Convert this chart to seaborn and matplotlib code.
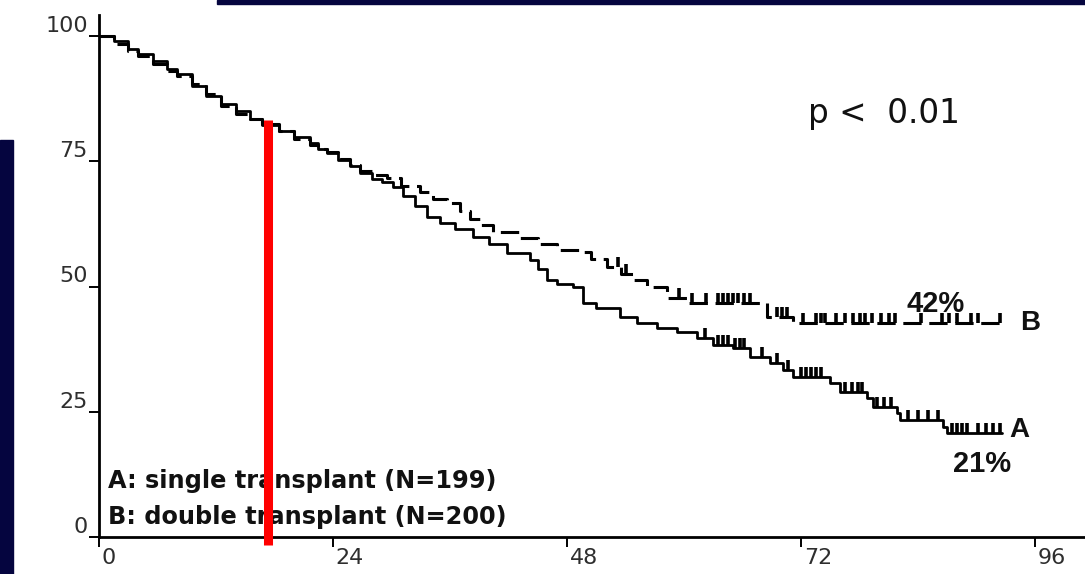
import numpy as np
import pandas as pd
import matplotlib
matplotlib.use("Agg")
import matplotlib.pyplot as plt
import matplotlib.transforms as mtrans
from matplotlib.path import Path
from matplotlib.patches import Rectangle
import seaborn as sns

# ---------------- data ----------------
months_A = [0, 1.5, 3, 4, 5.5, 7, 8, 9.5, 11, 12.5, 14, 15.5, 16.7, 18.5, 20, 21.6, 22.5, 23.4,
            24.5, 25.7, 26.8, 28, 29, 30.2, 31.2, 32.4, 33.6, 35, 36.5, 38.4, 40, 41.8, 44.2, 45,
            45.9, 47, 48.6, 49.6, 51, 53.4, 55.2, 57.2, 59.3, 61.3, 63, 65, 66.8, 68.8, 70.2,
            71.2, 75, 76, 78.8, 79.4, 81.8, 82.2, 86.6, 87, 92.6]
surv_A = [100, 99, 97.5, 96.5, 95, 93.5, 92.5, 90, 88, 86.5, 85, 83.5, 82.2, 81, 79.8, 78.6, 77.5,
          76.6, 75.2, 74, 72.7, 71.5, 70.8, 69.9, 68, 66, 63.9, 62.7, 61.5, 59.9, 58.5, 56.7, 55.3,
          53.5, 51.3, 50.5, 49.9, 46.7, 45.8, 43.9, 42.7, 41.7, 40.9, 39.7, 38.3, 37.7, 35.9, 34.7,
          33.3, 31.9, 30.7, 28.9, 27.7, 25.9, 24.7, 23.4, 22.0, 20.8, 20.8]

months_B = [0, 1.5, 3, 4, 5.5, 7, 8, 9.5, 11, 12.5, 14, 15.5, 16.7, 18.5, 20, 21.6, 22.5, 23.4,
            24.5, 25.7, 26.8, 28, 29.5, 31, 32.9, 34.3, 35.7, 37, 38, 39.1, 40.4, 43.2, 45, 47,
            49.3, 50.5, 52.1, 53.5, 54.8, 56.2, 58.3, 60.3, 68.5, 71.2, 92.6]
surv_B = [100, 98.5, 97, 96, 94.5, 93, 92, 90.5, 88.5, 86, 84.5, 83.5, 82.5, 81, 79.5, 78.2, 77.5,
          76.8, 75.5, 74.2, 73, 72.2, 71.7, 70, 68.9, 67.5, 66.7, 65, 63.5, 62.3, 60.9, 59.7, 58.5,
          57.3, 56.9, 55.5, 53.9, 52.5, 51.3, 49.9, 47.7, 46.7, 43.9, 42.7, 42.7]

censor_A = [62.2, 63.5, 64, 64.5, 65.2, 65.7, 66.2, 68, 69.5, 70.7, 72, 72.5, 73, 73.5, 74, 76.5,
            77.2, 77.8, 78.3, 79.8, 80.5, 81.2, 83, 84, 85, 86, 87.5, 88, 88.5, 89, 90.2, 91,
            91.7, 92.4]
censor_B = [53.2, 54, 59.5, 60.8, 62.3, 63.5, 64, 64.5, 65, 65.5, 66.2, 66.8, 69.5, 70, 70.6,
            72.2, 73.5, 74, 74.5, 75.6, 76.5, 77.3, 78, 78.6, 79.3, 80.2, 81, 81.6, 84.3, 86.5,
            87.2, 88, 89.4, 90.2, 92.4]

x_ticks = [0, 24, 48, 72, 96]
y_ticks = [0, 25, 50, 75, 100]
marker_month = 17.3          # red reference line
legend_lines = ["A: single transplant (N=199)", "B: double transplant (N=200)"]
p_text = "p <  0.01"
final_A, final_B = "21%", "42%"


def surv_at(times, surv, t):
    idx = np.searchsorted(times, t, side="right") - 1
    return np.asarray(surv)[idx]


df_A = pd.DataFrame({"month": months_A, "surv": surv_A})
df_B = pd.DataFrame({"month": months_B, "surv": surv_B})
cen_A = pd.DataFrame({"month": censor_A, "surv": surv_at(months_A, surv_A, censor_A)})
cen_B = pd.DataFrame({"month": censor_B, "surv": surv_at(months_B, surv_B, censor_B)})

# ---------------- figure ----------------
sns.set_theme(style="white")
plt.rcParams["font.family"] = ["Liberation Sans", "DejaVu Sans"]

fig = plt.figure(figsize=(10.85, 5.74), dpi=100)
fig.patch.set_facecolor("white")

# navy slide frame pieces
navy = "#05053f"
fig.patches.append(Rectangle((0, 0), 13 / 1085, (574 - 140) / 574, transform=fig.transFigure,
                             color=navy, zorder=0))
fig.patches.append(Rectangle((217 / 1085, 1 - 4 / 574), 1, 4 / 574, transform=fig.transFigure,
                             color=navy, zorder=0))

ax = fig.add_axes([99 / 1085, 37 / 574, (1085 - 99) / 1085, (537 - 15) / 574])
ax.set_facecolor("none")

sns.lineplot(data=df_A, x="month", y="surv", ax=ax, drawstyle="steps-post", estimator=None,
             color="black", linewidth=2.0, sort=False)
sns.lineplot(data=df_B, x="month", y="surv", ax=ax, drawstyle="steps-post", estimator=None,
             color="black", linewidth=2.2, sort=False, linestyle=(0, (6, 2.5)))

tick_up = Path([(0, 0), (0, 1)], [Path.MOVETO, Path.LINETO])
for cen in (cen_A, cen_B):
    ax.plot(cen["month"], cen["surv"], linestyle="none", marker=tick_up, markersize=14,
            markeredgewidth=2.6, color="black")

ax.set_xlim(0, (1085 - 99) / 9.75)
ax.set_ylim(0, (537 - 15) / 5.01)
ax.set_xticks(x_ticks)
ax.set_yticks(y_ticks)
ax.set_xlabel("")
ax.set_ylabel("")

for s in ("top", "right"):
    ax.spines[s].set_visible(False)
for s in ("left", "bottom"):
    ax.spines[s].set_color("black")
    ax.spines[s].set_linewidth(2.0)

ax.tick_params(axis="both", direction="out", length=7, width=1.4, color="black",
               labelsize=16, labelcolor="#2e2e2e", left=True, bottom=True)
ax.tick_params(axis="y", pad=1)
ax.tick_params(axis="x", pad=1)
for lab in ax.get_yticklabels():
    lab.set_va("bottom")
    lab.set_family("DejaVu Sans")
off = mtrans.ScaledTranslation(2 / 72, 0, fig.dpi_scale_trans)
for lab in ax.get_xticklabels():
    lab.set_ha("left")
    lab.set_family("DejaVu Sans")
    lab.set_transform(lab.get_transform() + off)

# red marker line
ax.plot([marker_month, marker_month], [83.2, -1.6], color="#ff0000", linewidth=6.5,
        solid_capstyle="butt", clip_on=False, zorder=10)

# texts
ax.text(0.9, 9.8, legend_lines[0], fontsize=17.3, fontweight="bold", color="#111111",
        va="baseline", ha="left", zorder=5, family="DejaVu Sans")
ax.text(0.9, 2.6, legend_lines[1], fontsize=17.3, fontweight="bold", color="#111111",
        va="baseline", ha="left", zorder=5, family="DejaVu Sans")
ax.text(72.7, 82.6, p_text, fontsize=23.5, color="#111111", va="baseline", ha="left",
        family="DejaVu Sans")
ax.text(82.8, 44.9, final_B, fontsize=21, fontweight="bold", color="#111111", va="baseline")
ax.text(94.5, 41.3, "B", fontsize=20, fontweight="bold", color="#111111", va="baseline")
ax.text(93.4, 20.0, "A", fontsize=20, fontweight="bold", color="#111111", va="baseline")
ax.text(87.6, 13.0, final_A, fontsize=21, fontweight="bold", color="#111111", va="baseline")

fig.savefig("out.png", dpi=100, facecolor=fig.get_facecolor())
